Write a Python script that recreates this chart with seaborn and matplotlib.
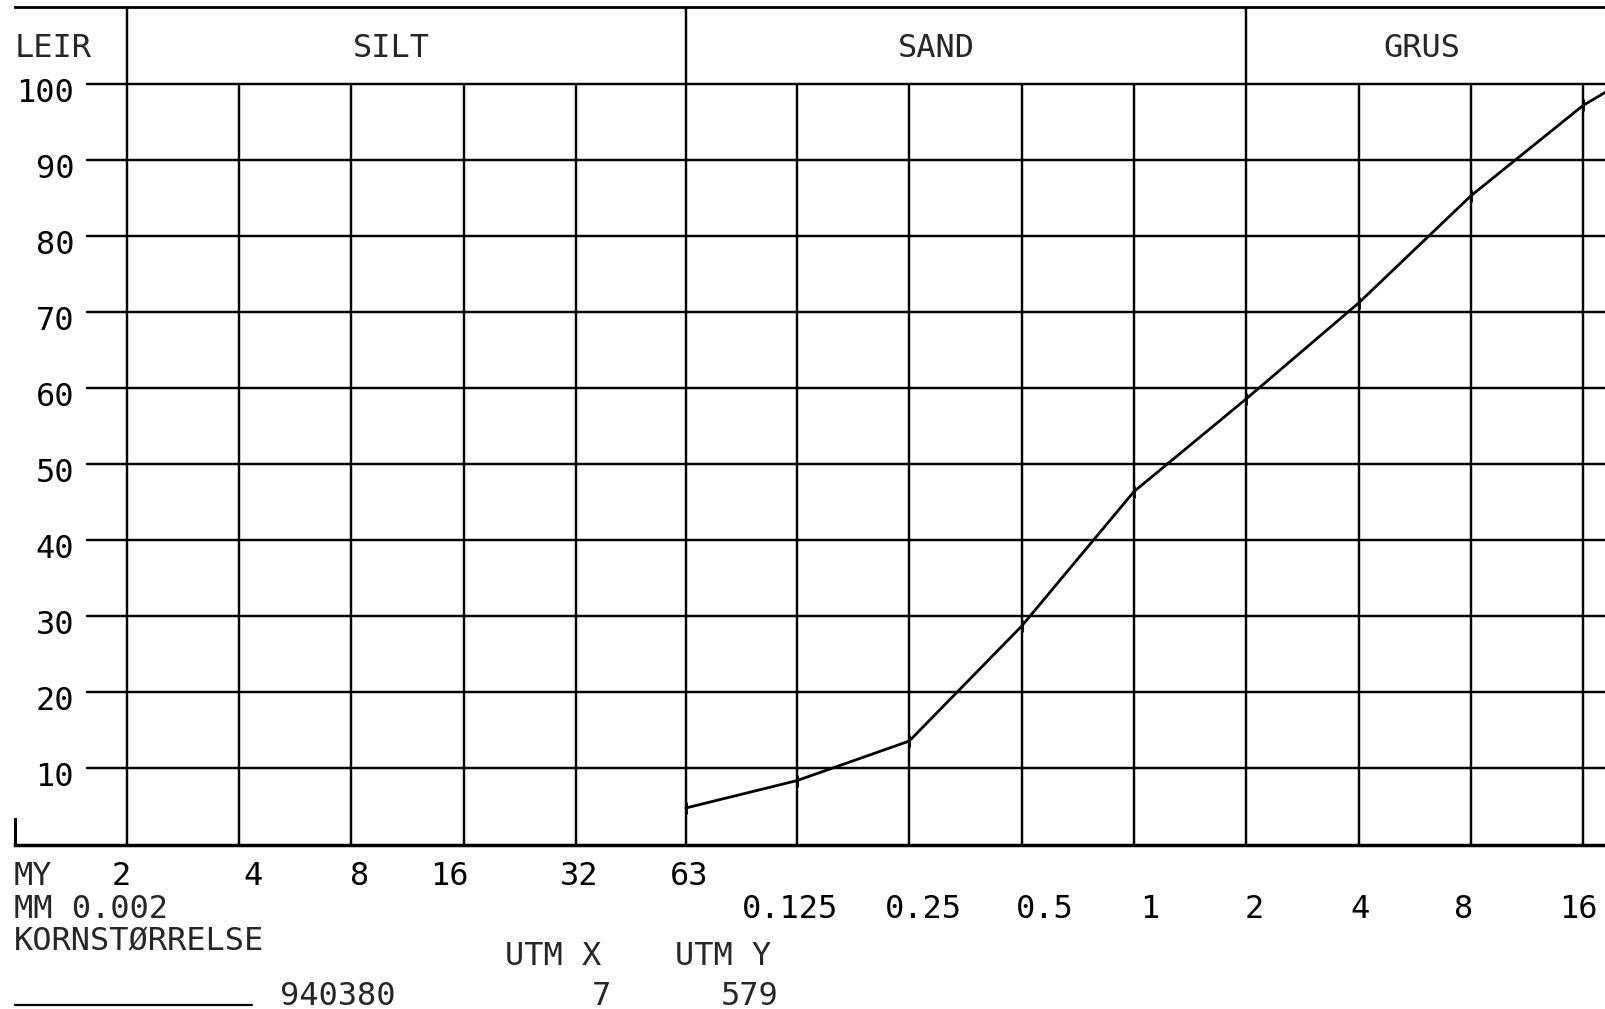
import numpy as np
import pandas as pd
import matplotlib
matplotlib.use("Agg")
import matplotlib.pyplot as plt
from matplotlib.lines import Line2D
from matplotlib.ticker import NullLocator
import seaborn as sns

# ---------------- data ----------------
sieve_mm = [0.063, 0.125, 0.25, 0.5, 1, 2, 4, 8, 16, 20]
passing_pct = [4.8, 8.4, 13.6, 28.7, 46.4, 58.6, 71.2, 85.3, 97.2, 100.0]

grid_mm = [0.002, 0.004, 0.008, 0.016, 0.032, 0.063,
           0.125, 0.25, 0.5, 1, 2, 4, 8, 16]
my_pos_mm = [0.002, 0.004, 0.008, 0.016, 0.032, 0.063]
my_labels = ["2", "4", "8", "16", "32", "63"]
mm_pos_mm = [0.125, 0.25, 0.5, 1, 2, 4, 8, 16]
mm_labels = ["0.125", "0.25", "0.5", "1", "2", "4", "8", "16"]
y_ticks = [10, 20, 30, 40, 50, 60, 70, 80, 90, 100]
fraction_names = ["LEIR", "SILT", "SAND", "GRUS"]
fraction_bounds_mm = [0.002, 0.063, 2]
sample_id = "940380"
utm_x = "7"
utm_y = "579"

# ---------------- layout ----------------
W, H = 1605, 1009
def fx(px):
    return px / W
def fy(py):
    return 1 - py / H

PX_PER_OCT = 112.34
X_1MM = 1133.9
AX_L, AX_R = 15, 1605
Y0_PX, Y100_PX, TOP_PX = 844.5, 84.0, 7.0
px_per_unit = (Y0_PX - Y100_PX) / 100.0
ytop = 100 + (Y100_PX - TOP_PX) / px_per_unit

sns.set_theme(style="white")
plt.rcParams["font.family"] = ["DejaVu Sans Mono", "DejaVu Sans"]
FS = 23
LW_GRID = 1.75

fig = plt.figure(figsize=(W / 100, H / 100), dpi=100)
fig.patch.set_facecolor("white")
ax = fig.add_axes([fx(AX_L), fy(Y0_PX), fx(AX_R) - fx(AX_L), (Y0_PX - TOP_PX) / H])
ax.set_facecolor("white")

df = pd.DataFrame({"mm": sieve_mm, "pct": passing_pct})
sns.lineplot(data=df, x="mm", y="pct", ax=ax, color="black", linewidth=2.0,
             marker="|", markersize=8, markeredgewidth=2, markeredgecolor="black",
             sort=True, legend=False, zorder=5)

ax.set_xscale("log", base=2)
ax.set_xlim(2 ** ((AX_L - X_1MM) / PX_PER_OCT), 2 ** ((AX_R - X_1MM) / PX_PER_OCT))
ax.set_ylim(0, ytop)

# grid
ax.vlines(grid_mm, 0, 100, colors="black", linewidth=LW_GRID, zorder=2)
ax.vlines(fraction_bounds_mm, 100, ytop, colors="black", linewidth=LW_GRID, zorder=2)
xmin_frac = (87 - AX_L) / (AX_R - AX_L)
for yv in y_ticks:
    ax.axhline(yv, xmin=xmin_frac, xmax=1, color="black", linewidth=LW_GRID, zorder=2)

# spines
ax.spines["right"].set_visible(False)
ax.spines["top"].set_linewidth(2.0)
ax.spines["bottom"].set_linewidth(2.5)
ax.spines["left"].set_linewidth(2.2)
for s in ["top", "bottom", "left"]:
    ax.spines[s].set_color("black")
ax.spines["left"].set_bounds(0, (Y0_PX - 819) / px_per_unit)

ax.xaxis.set_major_locator(NullLocator())
ax.xaxis.set_minor_locator(NullLocator())
ax.yaxis.set_major_locator(NullLocator())
ax.yaxis.set_minor_locator(NullLocator())
ax.set_xlabel("")
ax.set_ylabel("")

# y tick labels
for yv in y_ticks:
    ax.annotate(str(yv), xy=(0, yv), xycoords=("axes fraction", "data"),
                xytext=(74 - AX_L, -18), textcoords="offset pixels",
                ha="right", va="baseline", fontsize=FS, color="black")

# x labels (micrometre row and millimetre row)
my_dx = [-5, 14, 8, -14, 3, 3]
for pos, lab, dx in zip(my_pos_mm, my_labels, my_dx):
    ax.annotate(lab, xy=(pos, 0), xycoords=("data", "axes fraction"),
                xytext=(dx, -(885 - Y0_PX)), textcoords="offset pixels",
                ha="center", va="baseline", fontsize=FS, color="black")
mm_dx = [-7, 14, 23, 16, 8, 1, -7, -5]
for pos, lab, dx in zip(mm_pos_mm, mm_labels, mm_dx):
    ax.annotate(lab, xy=(pos, 0), xycoords=("data", "axes fraction"),
                xytext=(dx, -(918 - Y0_PX)), textcoords="offset pixels",
                ha="center", va="baseline", fontsize=FS, color="black")

# header
fig.text(fx(15), fy(57), fraction_names[0], ha="left", va="baseline", fontsize=FS)
for name, cx in zip(fraction_names[1:], [391, 936, 1422]):
    fig.text(fx(cx), fy(57), name, ha="center", va="baseline", fontsize=FS)

# footer
fig.text(fx(14), fy(885), "MY", ha="left", va="baseline", fontsize=FS)
fig.text(fx(14), fy(918), "MM 0.002", ha="left", va="baseline", fontsize=FS)
fig.text(fx(14), fy(950), "KORNSTØRRELSE", ha="left", va="baseline", fontsize=FS)
fig.text(fx(505), fy(965), "UTM X", ha="left", va="baseline", fontsize=FS)
fig.text(fx(675), fy(965), "UTM Y", ha="left", va="baseline", fontsize=FS)
fig.text(fx(280), fy(1005), sample_id, ha="left", va="baseline", fontsize=FS)
fig.text(fx(601), fy(1005), utm_x, ha="center", va="baseline", fontsize=FS)
fig.text(fx(721), fy(1005), utm_y, ha="left", va="baseline", fontsize=FS)
fig.add_artist(Line2D([fx(15), fx(252)], [fy(1005), fy(1005)],
                      transform=fig.transFigure, color="black", linewidth=1.6))

fig.savefig("out.png", dpi=100, facecolor="white")
